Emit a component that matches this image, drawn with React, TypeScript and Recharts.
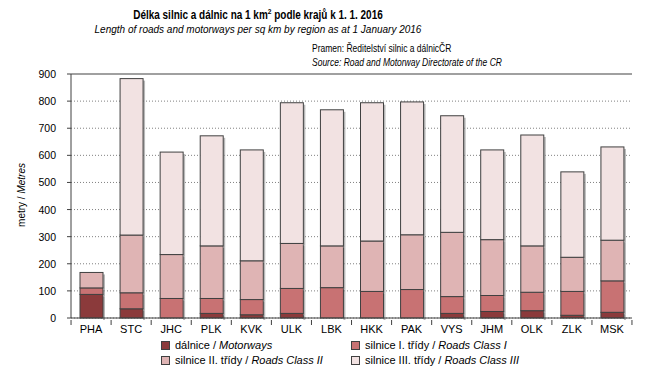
import { BarChart, Bar, XAxis, YAxis, CartesianGrid, ReferenceLine } from "recharts";

const regions = ["PHA", "STC", "JHC", "PLK", "KVK", "ULK", "LBK", "HKK", "PAK", "VYS", "JHM", "OLK", "ZLK", "MSK"];
const motorways = [87, 34, 0, 17, 12, 17, 0, 0, 0, 17, 24, 27, 10, 21];
const roadsClass1 = [24, 59, 72, 55, 56, 92, 112, 98, 105, 62, 59, 68, 88, 116];
const roadsClass2 = [57, 213, 162, 194, 143, 166, 154, 186, 202, 237, 206, 171, 126, 150];
const roadsClass3 = [0, 577, 378, 406, 409, 519, 502, 510, 490, 430, 331, 409, 315, 344];
const yTicks = [0, 100, 200, 300, 400, 500, 600, 700, 800, 900];

const data = regions.map((r, i) => ({
  region: r,
  d: motorways[i],
  s1: roadsClass1[i],
  s2: roadsClass2[i],
  s3: roadsClass3[i],
}));

const series = [
  { key: "d", color: "#8b3a3b", cz: "dálnice", en: "Motorways" },
  { key: "s1", color: "#c87273", cz: "silnice I. třídy", en: "Roads Class I" },
  { key: "s2", color: "#dfb4b4", cz: "silnice II. třídy", en: "Roads Class II" },
  { key: "s3", color: "#f2e2e2", cz: "silnice III. třídy", en: "Roads Class III" },
];

const FONT = "'Liberation Sans', Arial, sans-serif";

// bar segment with a small grey shadow on the right, like the excel original
const ShadowBar = (props: any) => {
  const { x, y, width, height, fill } = props;
  if (!height || height <= 0) return null;
  return (
    <g>
      <rect x={x + width} y={y + 2} width={2} height={height} fill="#9a9a9a" opacity={0.7} />
      <rect x={x} y={y} width={width} height={height} fill={fill} stroke="#404040" strokeWidth={1} />
    </g>
  );
};

const XTick = (props: any) => {
  const { x, y, payload, index } = props;
  const half = 20;
  return (
    <g>
      <line x1={x - half} x2={x - half} y1={y} y2={y + 5} stroke="#404040" />
      {index === regions.length - 1 && (
        <line x1={x + half} x2={x + half} y1={y} y2={y + 5} stroke="#404040" />
      )}
      <text x={x} y={y + 13} textAnchor="middle" fontSize={11} fontFamily={FONT} fill="#000">
        {payload.value}
      </text>
    </g>
  );
};

const YTick = (props: any) => {
  const { x, y, payload } = props;
  return (
    <text x={x - 9} y={y + 4} textAnchor="end" fontSize={10.5} fontFamily={FONT} fill="#000">
      {payload.value}
    </text>
  );
};

const YLabel = () => (
  <text
    transform="translate(25,195) rotate(-90)"
    textAnchor="middle"
    fontSize={10}
    fontFamily={FONT}
    fill="#000"
  >
    metry / <tspan fontStyle="italic">Metres</tspan>
  </text>
);

const LegendBox = () => (
  <div
    style={{
      position: "absolute",
      left: 161,
      top: 339,
      display: "grid",
      gridTemplateColumns: "190px 200px",
      rowGap: 3,
      fontFamily: FONT,
      fontSize: 11,
      color: "#000",
    }}
  >
    {series.map((s) => (
      <div key={s.key} style={{ display: "flex", alignItems: "center", whiteSpace: "nowrap" }}>
        <span
          style={{
            display: "inline-block",
            width: 7,
            height: 7,
            background: s.color,
            border: "1px solid #404040",
            marginRight: 5,
          }}
        />
        {s.cz} / <i style={{ marginLeft: 3 }}>{s.en}</i>
      </div>
    ))}
  </div>
);

export default function App() {
  return (
    <div style={{ position: "absolute", left: 0, top: 0, width: 665, height: 387, background: "#fff" }}>
      <div
        style={{
          position: "absolute",
          left: 0,
          width: 516,
          top: 8,
          textAlign: "center",
          fontFamily: FONT,
          fontWeight: "bold",
          fontSize: 12,
          transform: "scaleX(0.83)",
          transformOrigin: "258px 0",
          whiteSpace: "nowrap",
        }}
      >
        Délka silnic a dálnic na 1 km<sup style={{ fontSize: 8, lineHeight: 0 }}>2</sup> podle krajů k 1. 1. 2016
      </div>
      <div
        style={{
          position: "absolute",
          left: 0,
          width: 516,
          top: 24,
          textAlign: "center",
          fontFamily: FONT,
          fontStyle: "italic",
          fontSize: 10,
          whiteSpace: "nowrap",
        }}
      >
        Length of roads and motorways per sq km by region as at 1 January 2016
      </div>
      <div
        style={{
          position: "absolute",
          left: 312,
          top: 42,
          fontFamily: FONT,
          fontSize: 10,
          lineHeight: "14px",
          transform: "scaleX(0.85)",
          transformOrigin: "0 0",
          whiteSpace: "nowrap",
        }}
      >
        Pramen: Ředitelství silnic a dálnicČR
        <br />
        <i>Source: Road and Motorway Directorate of the CR</i>
      </div>
      <BarChart
        width={665}
        height={387}
        data={data}
        margin={{ top: 74, right: 33, bottom: 0, left: 31 }}
        barSize={23}
        style={{ position: "absolute", left: 0, top: 0 }}
      >
        <CartesianGrid vertical={false} stroke="#808080" strokeDasharray="1 2" />
        <XAxis
          dataKey="region"
          tick={<XTick />}
          tickLine={false}
          tickSize={0}
          axisLine={{ stroke: "#404040" }}
          interval={0}
          height={69}
        />
        <YAxis
          width={40}
          domain={[0, 900]}
          ticks={yTicks}
          interval={0}
          tick={<YTick />}
          tickLine={{ stroke: "#404040" }}
          tickSize={4}
          axisLine={{ stroke: "#404040" }}
          label={<YLabel />}
        />
        <YAxis
          yAxisId="r"
          orientation="right"
          width={0}
          domain={[0, 900]}
          tick={false}
          tickLine={false}
          axisLine={{ stroke: "#a0a0a0", strokeWidth: 2 }}
        />
        <ReferenceLine y={900} stroke="#a0a0a0" strokeWidth={2} />
        {series.map((s) => (
          <Bar
            key={s.key}
            dataKey={s.key}
            stackId="a"
            fill={s.color}
            shape={<ShadowBar />}
            isAnimationActive={false}
          />
        ))}
      </BarChart>
      <LegendBox />
    </div>
  );
}
